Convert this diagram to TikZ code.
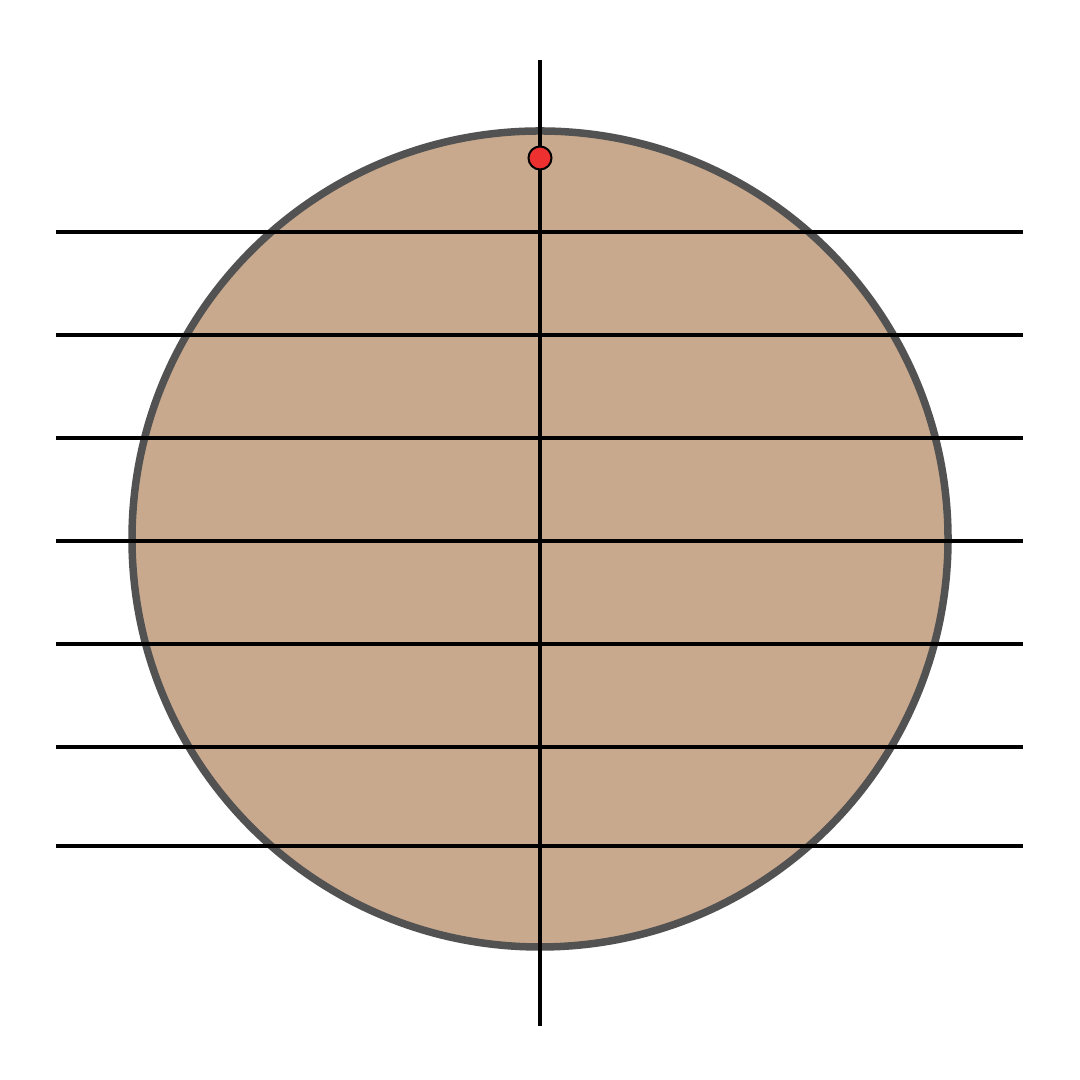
\documentclass[tikz,border=0pt]{standalone}
\usepackage{tikz}
\usetikzlibrary{positioning}
\definecolor{platesand}{RGB}{201,169,142}
\definecolor{platerim}{RGB}{82,82,82}
\definecolor{markred}{RGB}{238,48,48}

\begin{document}
\begin{tikzpicture}[x=0.01cm,y=0.01cm,line cap=butt]
\useasboundingbox (0,0) rectangle (1080,1080);
\fill[white] (0,0) rectangle (1080,1080);
% disc
\draw[platerim,fill=platesand,line width=0.075cm] (540,541) circle (408);
% horizontal lines
\foreach \y in {232,335,438,541,644,747,846}{\draw[line width=0.033cm] (56,1080-\y) -- (1023,1080-\y);}
% axis
\coordinate (top) at (540,1020);
\coordinate (bot) at (540,54);
\draw[line width=0.033cm] (top) -- (bot);
\node[circle,draw=black,fill=markred,line width=0.02cm,minimum size=0.23cm,inner sep=0pt] (dot) at (540,922) {};
\end{tikzpicture}
\end{document}
